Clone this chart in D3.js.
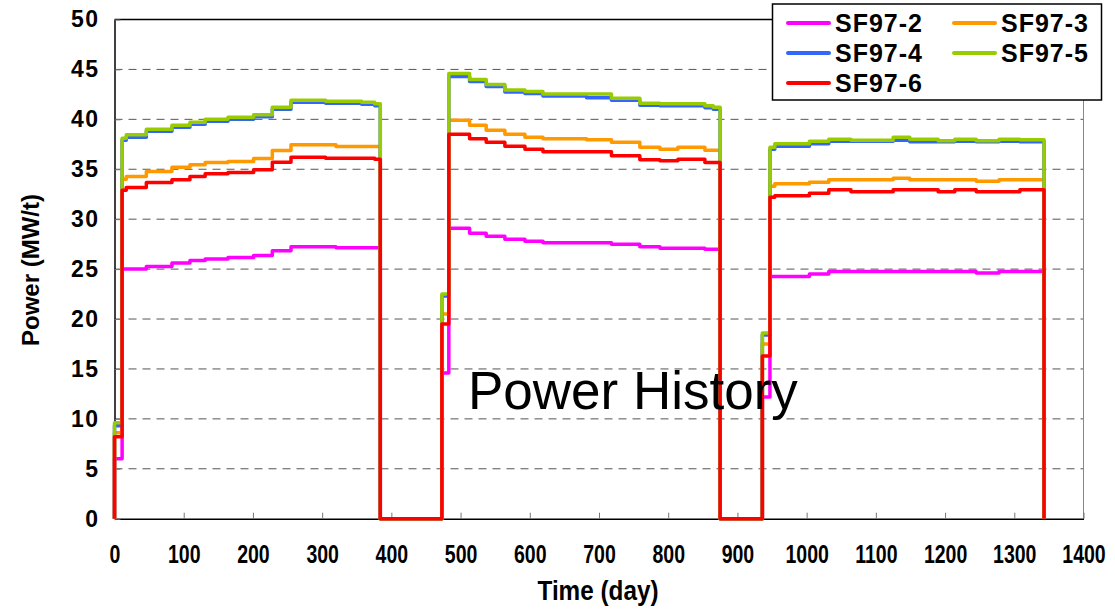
<!DOCTYPE html>
<html>
<head>
<meta charset="utf-8">
<script src="https://cdn.jsdelivr.net/npm/d3@7"></script>
<style>
  body { margin: 0; background: #fff; }
  svg { display: block; }
</style>
</head>
<body>
<div id="chart"></div>
<script>
// step start times (day), three irradiation cycles
const days = [0, 11, 17, 46, 83, 109, 131, 164, 201, 228, 255, 305, 320, 357, 376, 384,
              473, 483, 513, 537, 564, 593, 619, 682, 718, 759, 788, 814, 853, 865, 875,
              936, 947, 954, 1004, 1032, 1064, 1125, 1149, 1190, 1214, 1245, 1278, 1308, 1343];

// power (MW/t) held from each step time to the next
const sf97_2 = [6.0, 25.0, 25.0, 25.25, 25.6, 25.85, 26.0, 26.15, 26.35, 26.85, 27.25, 27.25, 27.15, 27.15, 27.15, 0,
                14.6, 29.1, 28.6, 28.3, 28.0, 27.8, 27.65, 27.65, 27.5, 27.25, 27.1, 27.1, 27.0, 27.0, 0,
                12.2, 24.25, 24.25, 24.5, 24.75, 24.75, 24.75, 24.75, 24.75, 24.75, 24.6, 24.75, 24.75, 0];
const sf97_3 = [8.6, 34.0, 34.27, 34.77, 35.2, 35.45, 35.67, 35.77, 36.07, 36.87, 37.45, 37.45, 37.28, 37.28, 37.28, 0,
                20.5, 39.9, 39.4, 38.9, 38.5, 38.2, 38.05, 37.95, 37.7, 37.2, 37.0, 37.2, 36.9, 36.9, 0,
                17.5, 33.3, 33.55, 33.7, 33.95, 33.95, 34.1, 33.95, 33.95, 33.95, 33.8, 33.95, 33.95, 0];
const sf97_4 = [9.3, 37.9, 38.2, 38.8, 39.2, 39.5, 39.8, 40.0, 40.25, 41.0, 41.7, 41.6, 41.6, 41.5, 41.35, 0,
                22.3, 44.3, 43.8, 43.3, 42.75, 42.6, 42.35, 42.15, 41.9, 41.4, 41.35, 41.35, 41.15, 41.0, 0,
                18.4, 37.0, 37.3, 37.55, 37.8, 37.8, 37.9, 37.75, 37.75, 37.8, 37.75, 37.8, 37.75, 0];
const sf97_5 = [9.6, 38.1, 38.45, 39.0, 39.4, 39.7, 40.0, 40.2, 40.45, 41.2, 41.9, 41.8, 41.8, 41.7, 41.55, 0,
                22.5, 44.6, 44.0, 43.5, 42.95, 42.8, 42.55, 42.55, 42.1, 41.6, 41.55, 41.55, 41.35, 41.2, 0,
                18.6, 37.2, 37.55, 37.8, 38.0, 37.9, 38.2, 38.0, 37.85, 38.0, 37.85, 38.0, 37.95, 0];
const sf97_6 = [8.2, 32.9, 33.17, 33.67, 33.94, 34.27, 34.54, 34.67, 34.94, 35.71, 36.2, 36.1, 36.1, 36.1, 36.0, 0,
                19.5, 38.5, 38.05, 37.7, 37.3, 37.0, 36.75, 36.75, 36.35, 35.95, 35.85, 36.0, 35.67, 35.67, 0,
                16.3, 32.2, 32.35, 32.6, 32.95, 32.75, 32.95, 32.95, 32.75, 32.95, 32.75, 32.75, 32.95, 0];

const seriesNames = ["SF97-2", "SF97-3", "SF97-4", "SF97-5", "SF97-6"];
const seriesValues = [sf97_2, sf97_3, sf97_4, sf97_5, sf97_6];

const xTicks = [0, 100, 200, 300, 400, 500, 600, 700, 800, 900, 1000, 1100, 1200, 1300, 1400];
const yTicks = [0, 5, 10, 15, 20, 25, 30, 35, 40, 45, 50];

const colors = ["#ff00ff", "#ff9900", "#3366ff", "#99cc00", "#ff0000"];

const width = 1115;
const height = 609;
const plot = { left: 114.5, right: 1083.5, top: 19.5, bottom: 518.7 };

const svg = d3.select("#chart")
    .append("svg")
    .attr("width", width)
    .attr("height", height)
    .style("font-family", "'Liberation Sans', Arial, sans-serif");

const x = d3.scaleLinear().domain([0, 1400]).range([plot.left, plot.right]);
const y = d3.scaleLinear().domain([0, 50]).range([plot.bottom, plot.top]);

// dashed gridlines
svg.append("g")
    .selectAll("line")
    .data(yTicks.filter(d => d > 0 && d < 50))
    .enter()
    .append("line")
    .attr("x1", plot.left)
    .attr("x2", plot.right)
    .attr("y1", d => y(d))
    .attr("y2", d => y(d))
    .attr("stroke", "#555")
    .attr("stroke-width", 1)
    .attr("stroke-dasharray", "8,6");

// top and right border
svg.append("line")
    .attr("x1", plot.left).attr("x2", plot.right)
    .attr("y1", plot.top).attr("y2", plot.top)
    .attr("stroke", "#000").attr("stroke-width", 1.5);
svg.append("line")
    .attr("x1", plot.right).attr("x2", plot.right)
    .attr("y1", plot.top).attr("y2", plot.bottom)
    .attr("stroke", "#888").attr("stroke-width", 1);

// axes, ticks pointing inwards
const xAxis = svg.append("g")
    .attr("transform", `translate(0,${plot.bottom})`)
    .call(d3.axisBottom(x).tickValues(xTicks).tickFormat(d3.format("d"))
        .tickSizeInner(-6).tickSizeOuter(0).tickPadding(27));
xAxis.select(".domain").attr("stroke", "#000").attr("stroke-width", 1.5);
xAxis.selectAll(".tick line").attr("stroke", "#777");
xAxis.selectAll("text")
    .attr("font-size", 25)
    .attr("font-weight", "bold")
    .attr("fill", "#000")
    .attr("transform", "scale(0.78,1)");

const yAxis = svg.append("g")
    .attr("transform", `translate(${plot.left},0)`)
    .call(d3.axisLeft(y).tickValues(yTicks).tickSizeInner(-6).tickSizeOuter(0).tickPadding(15));
yAxis.select(".domain").attr("stroke", "#000").attr("stroke-width", 1.5);
yAxis.selectAll(".tick line").attr("stroke", "#777");
yAxis.selectAll("text")
    .attr("font-size", 23)
    .attr("font-weight", "bold")
    .attr("letter-spacing", 1.5)
    .attr("fill", "#000");

// axis titles
svg.append("text")
    .attr("x", 598 / 0.9)
    .attr("y", 600)
    .attr("transform", "scale(0.9,1)")
    .attr("text-anchor", "middle")
    .attr("font-size", 27)
    .attr("font-weight", "bold")
    .text("Time (day)");

svg.append("text")
    .attr("transform", "translate(39,270) rotate(-90)")
    .attr("text-anchor", "middle")
    .attr("font-size", 24)
    .attr("font-weight", "bold")
    .text("Power (MW/t)");

// step lines
const line = d3.line()
    .x(d => x(d[0]))
    .y(d => y(d[1]))
    .curve(d3.curveStepAfter);

seriesValues.forEach((vals, i) => {
    const pts = [[0, 0]].concat(days.map((d, j) => [d, vals[j]]));
    svg.append("path")
        .datum(pts)
        .attr("d", line)
        .attr("fill", "none")
        .attr("stroke", colors[i])
        .attr("stroke-width", 3.5)
        .attr("stroke-linejoin", "round");
});

// chart title inside plot
svg.append("text")
    .attr("x", 468)
    .attr("y", 409)
    .attr("font-size", 53)
    .attr("fill", "#000")
    .text("Power History");

// legend
const legend = svg.append("g");
legend.append("rect")
    .attr("x", 772.5)
    .attr("y", 4)
    .attr("width", 329)
    .attr("height", 96)
    .attr("fill", "#fff")
    .attr("stroke", "#000")
    .attr("stroke-width", 1.5);

const item = legend.selectAll(".item")
    .data(seriesNames)
    .enter()
    .append("g")
    .attr("transform", (d, i) => `translate(${i % 2 === 0 ? 788 : 954},${23 + Math.floor(i / 2) * 30})`);

item.append("line")
    .attr("x1", 0).attr("x2", 41)
    .attr("stroke", (d, i) => colors[i])
    .attr("stroke-width", 4)
    .attr("stroke-linecap", "round");

item.append("text")
    .attr("x", 47)
    .attr("dy", "0.35em")
    .attr("font-size", 25)
    .attr("font-weight", "bold")
    .attr("letter-spacing", 1)
    .text(d => d);
</script>
</body>
</html>
